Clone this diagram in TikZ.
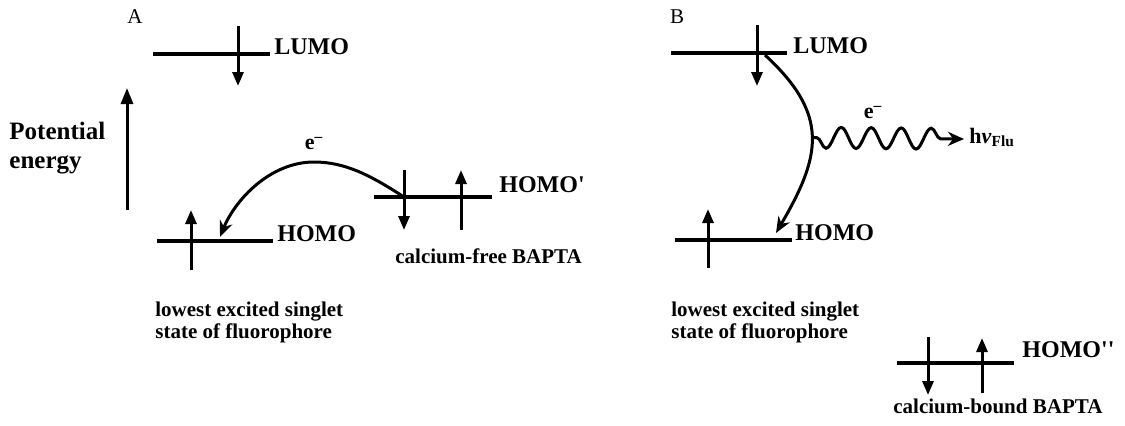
\documentclass[tikz,border=0pt]{standalone}
\usepackage{fontspec}
\setmainfont{Liberation Serif}
\usetikzlibrary{arrows.meta,positioning,decorations.pathmorphing}
\tikzset{
  pet/level/.style={line width=1.7pt},
  pet/spin/.style={line width=1.5pt, -{Triangle[length=7pt,width=5.5pt]}},
  pet/axis/.style={line width=1.5pt, -{Triangle[length=8pt,width=6pt]}},
  pet/transfer/.style={line width=1.5pt, -{Stealth[length=8pt,width=6.5pt]}},
  pet/photon/.style={
    line width=1.5pt,
    -{Stealth[length=8pt,width=7pt]},
    decorate,
    decoration={snake, mirror, amplitude=5.25pt, segment length=15pt, pre length=2.5pt, post length=10pt}
  },
  pet/orbital/.style={font=\fontsize{12}{14}\selectfont\bfseries, inner sep=0pt},
  pet/note/.style={font=\fontsize{10.5}{11}\selectfont\bfseries, inner sep=0pt, align=left},
  pet/panel/.style={font=\fontsize{10.5}{12}\selectfont, inner sep=0pt},
  pet/electron/.style={font=\fontsize{11}{13}\selectfont\bfseries, inner sep=0pt}
}

\begin{document}
\begin{tikzpicture}[x=0.5pt,y=-0.5pt]
  \useasboundingbox (0,0) rectangle (1125,425);

  % A: calcium-free BAPTA
  \node[pet/panel] (panelA) at (135,17) {A};
  \coordinate (lumoA-w) at (153,54);
  \coordinate (lumoA-e) at (270,54);
  \coordinate (homoA-w) at (157,241);
  \coordinate (homoA-e) at (273,241);
  \coordinate (homoP-w) at (374,197);
  \coordinate (homoP-e) at (492,197);
  \draw[pet/level] (lumoA-w) -- (lumoA-e);
  \draw[pet/level] (homoA-w) -- (homoA-e);
  \draw[pet/level] (homoP-w) -- (homoP-e);
  \draw[pet/spin] (238,26) -- (238,86);
  \draw[pet/spin] (191,270) -- (191,210);
  \draw[pet/spin] (404,170) -- (404,230);
  \draw[pet/spin] (461,230) -- (461,170);
  \node[pet/orbital, right=2pt of lumoA-e, anchor=base west] (lumoA) {LUMO};
  \node[pet/orbital, right=2pt of homoA-e, anchor=base west] (homoA) {HOMO};
  \node[pet/orbital, right=3.5pt of homoP-e, anchor=base west, yshift=2.5pt] (homoP) {HOMO\textquotesingle};
  \node[pet/note, anchor=base west] (freeBapta) at (395,263) {calcium-free BAPTA};
  \node[pet/note, anchor=north west] (fluorA) at (155,302) {lowest excited singlet\\state of fluorophore};
  \node[pet/orbital, anchor=north west, align=left, font=\fontsize{12.5}{14.5}\selectfont\bfseries] (energy) at (9,122) {Potential\\energy};
  \coordinate (energy-lo) at (127,210);
  \coordinate (energy-hi) at (127,88);
  \draw[pet/axis] (energy-lo) -- (energy-hi);
  \coordinate (donorA) at (404,197);
  \coordinate (peakA) at (314,162);
  \coordinate (acceptA) at (220,237);
  \draw[pet/transfer] (donorA) .. controls +(-34,-22) and +(31,0) .. (peakA)
    .. controls +(-44,0) and +(15,-37) .. (acceptA);
  \node[pet/electron, above=6pt of peakA] (eA) {e\textsuperscript{–}};

  % B: calcium-bound BAPTA
  \node[pet/panel] (panelB) at (677,17) {B};
  \coordinate (lumoB-w) at (671,53);
  \coordinate (lumoB-e) at (787,53);
  \coordinate (homoB-w) at (675,240);
  \coordinate (homoB-e) at (792,240);
  \coordinate (homoPP-w) at (897,363);
  \coordinate (homoPP-e) at (1014,363);
  \draw[pet/level] (lumoB-w) -- (lumoB-e);
  \draw[pet/level] (homoB-w) -- (homoB-e);
  \draw[pet/level] (homoPP-w) -- (homoPP-e);
  \draw[pet/spin] (757,25) -- (757,86);
  \draw[pet/spin] (708,268) -- (708,209);
  \draw[pet/spin] (928,337) -- (928,395);
  \draw[pet/spin] (982,393) -- (982,338);
  \node[pet/orbital, right=3pt of lumoB-e, anchor=base west] (lumoB) {LUMO};
  \node[pet/orbital, right=1.5pt of homoB-e, anchor=base west] (homoB) {HOMO};
  \node[pet/orbital, right=4pt of homoPP-e, anchor=base west, yshift=3pt] (homoPP) {HOMO\textquotesingle\textquotesingle};
  \node[pet/note, anchor=base west] (boundBapta) at (893,413) {calcium-bound BAPTA};
  \node[pet/note, anchor=north west] (fluorB) at (671,302) {lowest excited singlet\\state of fluorophore};
  \coordinate (donorB) at (765,55);
  \coordinate (acceptB) at (776,233);
  \draw[pet/transfer] (donorB) .. controls +(65,60) and +(45,-77) .. coordinate[pos=0.5] (emitB) (acceptB);
  \node[pet/electron] (eB) at (873,113) {e\textsuperscript{–}};
  \node[pet/electron, anchor=base west] (hnu) at (969,143) {h\textit{ν}\textsubscript{Flu}};
  \draw[pet/photon] (emitB) -- ([xshift=-2.5pt,yshift=2pt]hnu.base west);
\end{tikzpicture}
\end{document}
